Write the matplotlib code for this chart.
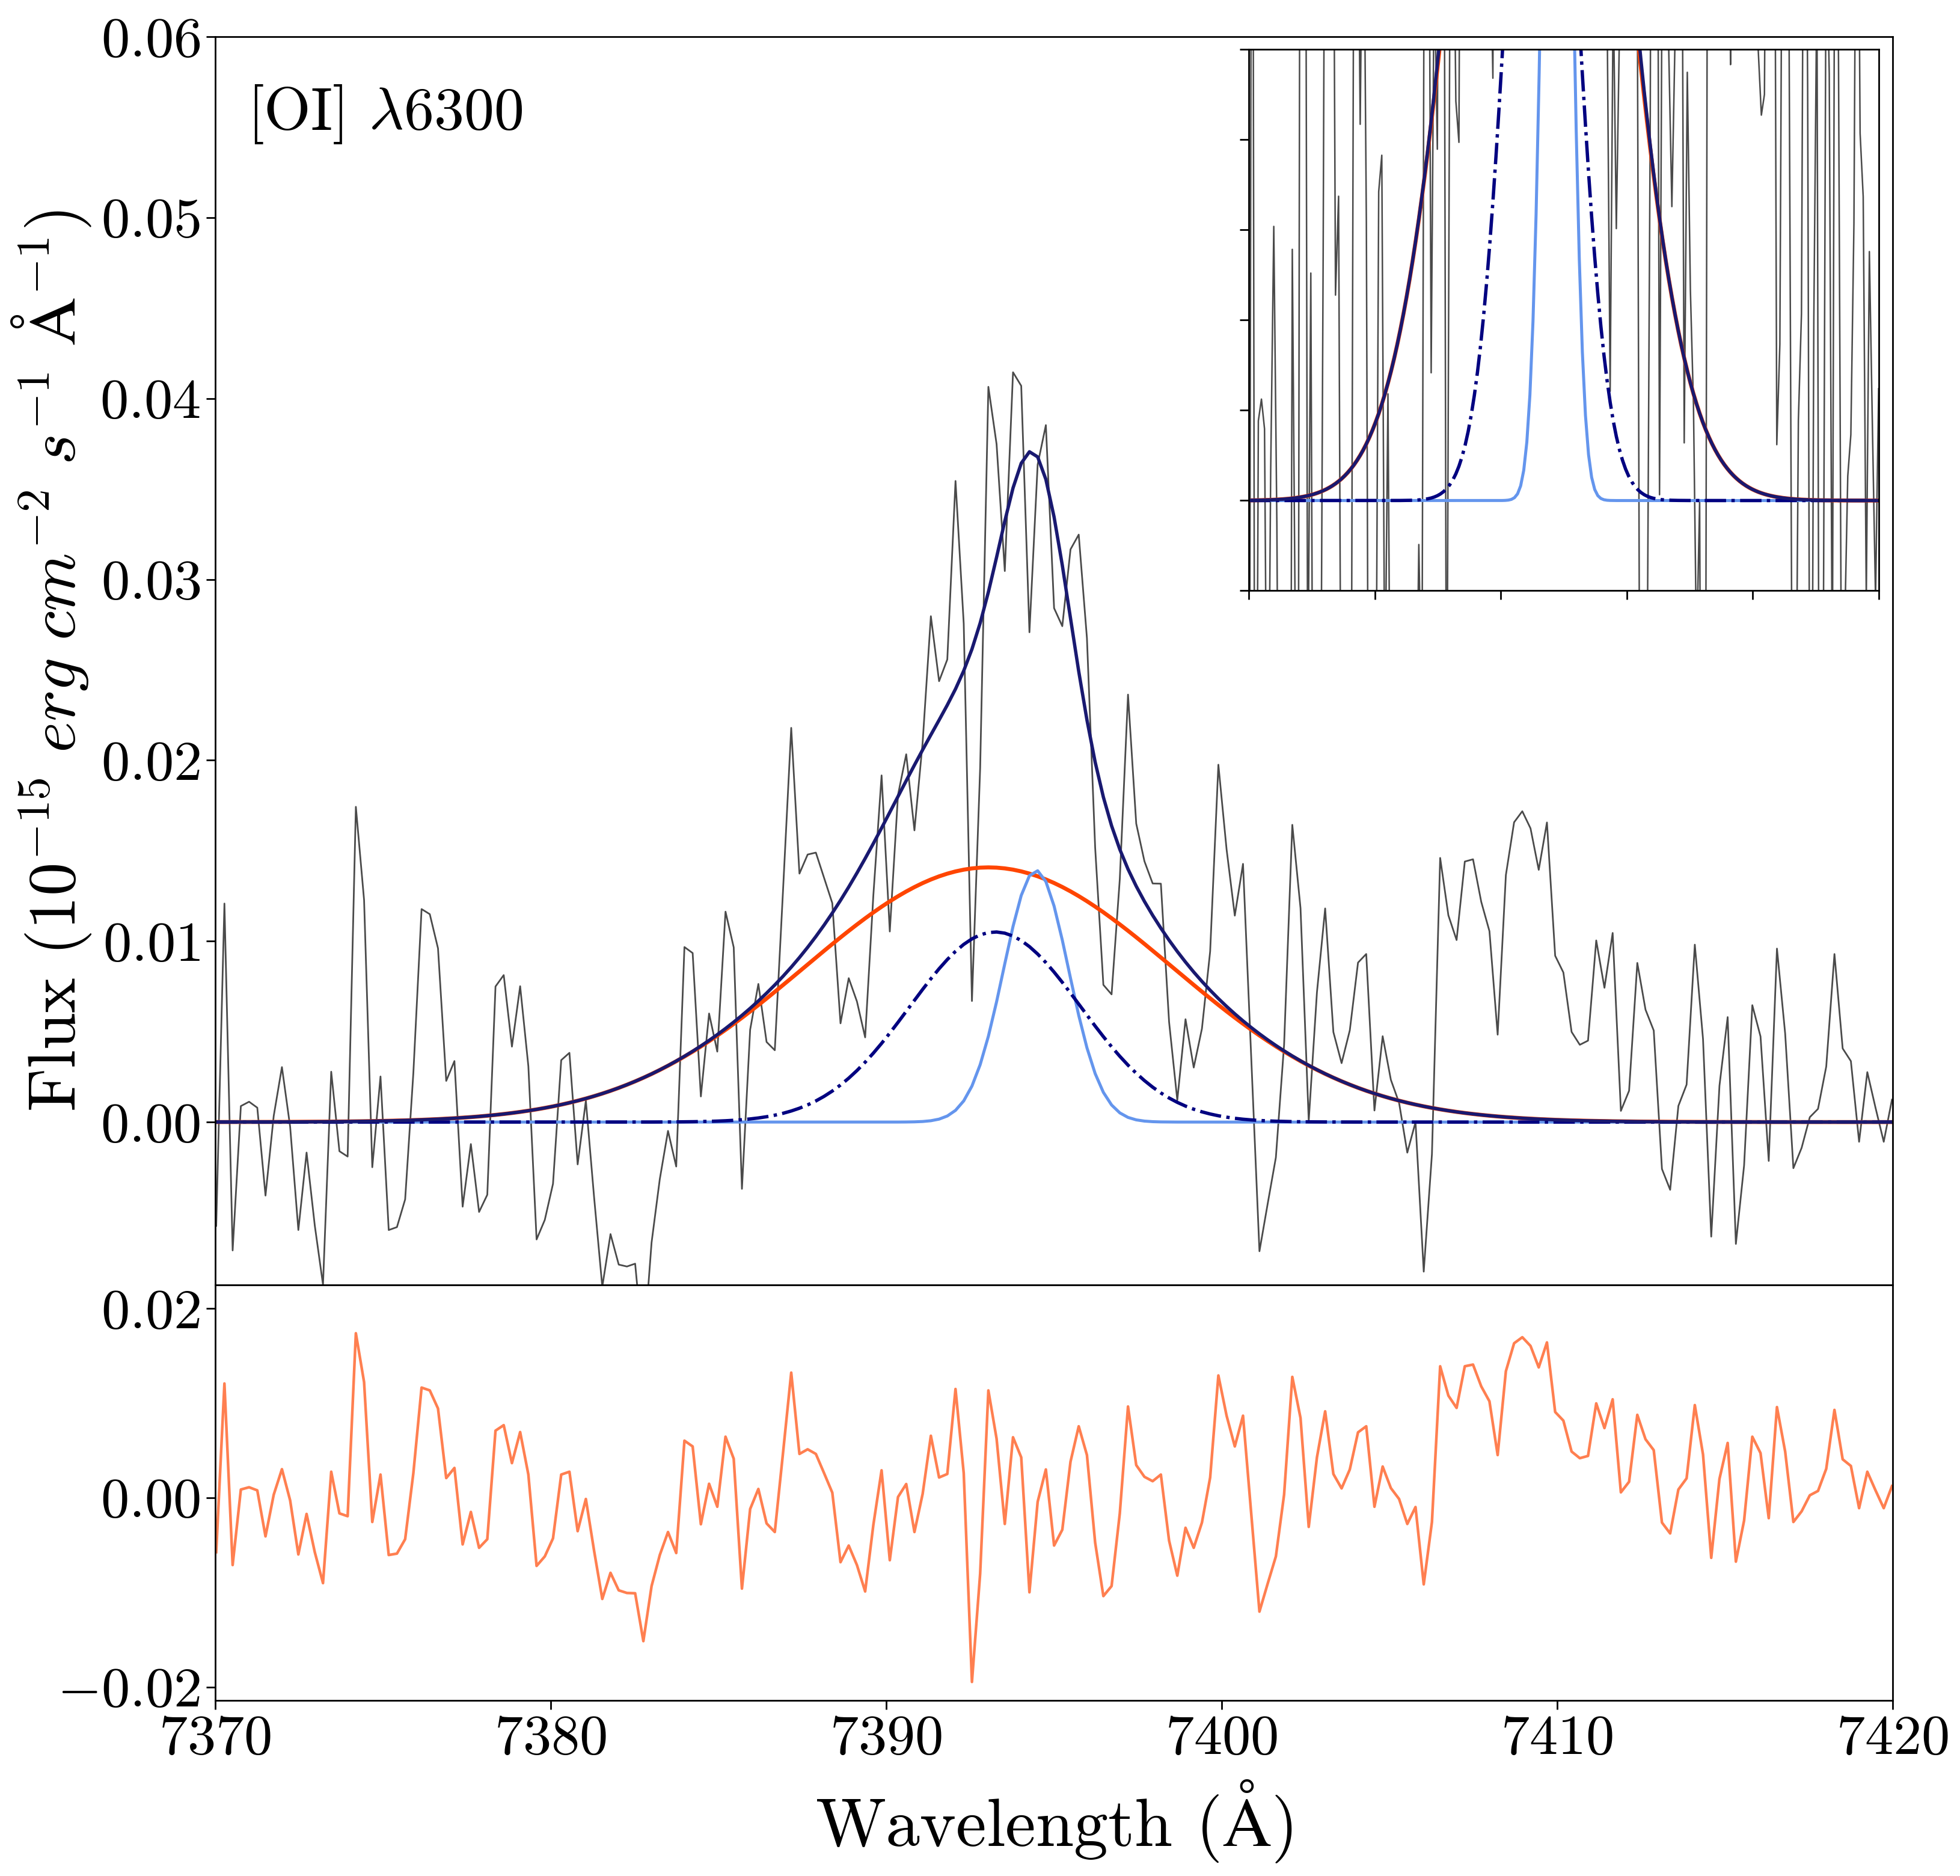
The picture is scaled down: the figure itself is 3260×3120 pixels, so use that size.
import numpy as np
import matplotlib
matplotlib.use("Agg")
import matplotlib.pyplot as plt
from matplotlib.ticker import MultipleLocator

plt.rcParams['font.family'] = 'serif'
plt.rcParams['font.serif'] = ['cmr10']
plt.rcParams['mathtext.fontset'] = 'cm'
plt.rcParams['axes.formatter.use_mathtext'] = True

# wavelength grid of the spectrum (regular sampling)
WAVE_START = 7370.03
WAVE_STEP = 0.24486

# residuals (data - model), in units of 1e-3
resid_e3 = [
    -5.74, 12.08, -7.10, 0.88, 1.12, 0.79, -4.07, 0.33, 3.03, -0.27,
    -5.98, -1.70, -5.74, -9.01, 2.76, -1.64, -1.94, 17.39, 12.23, -2.55,
    2.46, -6.04, -5.89, -4.37, 2.61, 11.65, 11.35, 9.44, 2.09, 3.16,
    -4.92, -1.49, -5.28, -4.37, 7.10, 7.68, 3.67, 6.95, 2.46, -7.19,
    -6.19, -4.28, 2.46, 2.76, -3.52, -0.12, -5.58, -10.68, -7.92, -9.77,
    -10.05, -10.08, -15.14, -9.32, -6.04, -3.61, -5.83, 6.04, 5.43, -2.79,
    1.49, -0.94, 6.46, 4.13, -9.59, -1.18, 0.94, -2.70, -3.61, 4.73,
    13.23, 4.64, 5.13, 4.64, 2.61, 0.55, -6.80, -5.04, -7.10, -9.89,
    -2.85, 2.91, -6.59, 0.09, 1.46, -3.61, 0.42, 6.56, 2.15, 2.52,
    11.50, 2.61, -19.45, -8.01, 11.35, 6.25, -2.76, 6.40, 4.28, -9.98,
    -0.42, 3.00, -5.04, -3.37, 3.82, 7.56, 4.52, -4.73, -10.38, -9.32,
    -1.64, 9.65, 3.46, 2.22, 1.76, 2.46, -4.52, -8.22, -3.16, -5.28,
    -2.61, 2.15, 12.93, 8.68, 5.43, 8.68, -1.64, -12.02, -9.07, -6.19,
    0.33, 12.78, 8.44, -3.07, 4.28, 9.14, 2.52, 1.00, 3.00, 6.92,
    7.56, -0.94, 3.31, 1.03, -0.12, -2.76, -0.97, -9.14, -2.55, 13.90,
    10.80, 9.50, 13.90, 14.08, 11.78, 10.20, 4.52, 13.38, 16.33, 16.97,
    16.05, 13.78, 16.42, 9.07, 8.16, 4.89, 4.19, 4.43, 9.98, 7.37,
    10.41, 0.58, 1.70, 8.77, 6.19, 5.04, -2.61, -3.76, 0.88, 2.06,
    9.80, 4.58, -6.34, 2.00, 5.80, -6.74, -2.40, 6.46, 4.73, -2.15,
    9.59, 4.89, -2.55, -1.43, 0.27, 0.73, 3.07, 9.29, 4.07, 3.37,
    -1.09, 2.76, 0.79, -1.09, 1.24,
]

# fitted gaussian components: broad, intermediate, narrow
comp_amp = [0.01408, 0.01051, 0.01391]
comp_cen = [7393.05, 7393.25, 7394.47]
comp_sig = [5.50, 2.55, 0.97]
comp_colors = ['orangered', 'navy', 'cornflowerblue']


def gauss(x, a, c, s):
    return a * np.exp(-0.5 * ((x - c) / s) ** 2)


resid = np.array(resid_e3) * 1e-3
wave = WAVE_START + WAVE_STEP * np.arange(len(resid))
broad = gauss(wave, comp_amp[0], comp_cen[0], comp_sig[0])
mid = gauss(wave, comp_amp[1], comp_cen[1], comp_sig[1])
narrow = gauss(wave, comp_amp[2], comp_cen[2], comp_sig[2])
total = broad + mid + narrow
flux = total + resid


def draw_lines(ax, gray_lw=1.0):
    ax.plot(wave, flux, color='#4a4a4a', lw=gray_lw)
    ax.plot(wave, broad, color=comp_colors[0], lw=2.4)
    ax.plot(wave, narrow, color=comp_colors[2], lw=1.8)
    ax.plot(wave, mid, color=comp_colors[1], lw=2.0, ls='-.')
    ax.plot(wave, total, color='midnightblue', lw=2.0)


fig = plt.figure(figsize=(16.3, 15.6), dpi=200)
ax = fig.add_axes([0.1098, 0.3151, 0.8558, 0.6653])
axr = fig.add_axes([0.1098, 0.0936, 0.8558, 0.2215], sharex=ax)
axin = fig.add_axes([0.6371, 0.6851, 0.3215, 0.2885])

for a in (ax, axr, axin):
    for sp in a.spines.values():
        sp.set_linewidth(1.0)
    a.tick_params(direction='out', length=5.3, width=1.0, labelsize=34)

# main panel
draw_lines(ax)
ax.set_xlim(7370, 7420)
ax.set_ylim(-0.009, 0.06)
ax.yaxis.set_major_locator(MultipleLocator(0.01))
ax.tick_params(axis='x', bottom=False, labelbottom=False)
ax.set_ylabel(r'Flux $(10^{-15}\ erg\ cm^{-2}\ s^{-1}\ \mathrm{\AA}^{-1})$',
              fontsize=40)
ax.text(0.019, 0.963, r'[OI] $\lambda$6300', transform=ax.transAxes,
        fontsize=36, va='top', ha='left')

# residuals
axr.plot(wave, resid, color='coral', lw=1.6)
axr.set_ylim(-0.0214, 0.0225)
axr.yaxis.set_major_locator(MultipleLocator(0.02))
axr.xaxis.set_major_locator(MultipleLocator(10))
axr.set_xlabel(r'Wavelength ($\mathrm{\AA}$)', fontsize=41, labelpad=8)

# inset zoom on the baseline
draw_lines(axin, gray_lw=0.9)
axin.set_xlim(7370, 7420)
axin.set_ylim(-0.001, 0.005)
axin.xaxis.set_major_locator(MultipleLocator(10))
axin.yaxis.set_major_locator(MultipleLocator(0.001))
axin.tick_params(labelleft=False, labelbottom=False)

fig.savefig('out.png', dpi=200)
